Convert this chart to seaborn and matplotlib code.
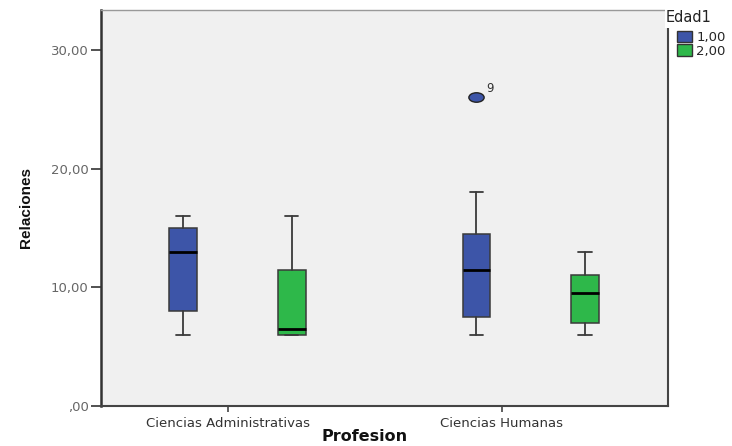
import matplotlib
matplotlib.use("Agg")
import matplotlib.pyplot as plt
from matplotlib.markers import MarkerStyle
from matplotlib.transforms import Affine2D
from matplotlib.patches import Patch, Rectangle
import seaborn as sns

# Categories
profesion = ["Ciencias Administrativas", "Ciencias Humanas"]
edad = ["1,00", "2,00"]

# Box summaries of Relaciones, indexed [profesion][edad]
whis_low = [[6, 6], [6, 6]]
q1 = [[8, 6], [7.5, 7]]
median = [[13, 6.5], [11.5, 9.5]]
q3 = [[15, 11.5], [14.5, 11]]
whis_high = [[16, 16], [18, 13]]
outliers = [[[], []], [[26], []]]
outlier_ids = [[[], []], [["9"], []]]

y_ticks = [0, 10, 20, 30]
y_tick_labels = [",00", "10,00", "20,00", "30,00"]

sns.set_style("ticks")
palette = ["#3d55a8", "#2eb84a"]
edge = "#3a3a3a"

fig = plt.figure(figsize=(7.32, 4.46), dpi=100)
W, H = 732, 446
ax = fig.add_axes([101 / W, 1 - 406 / H, 567 / W, 396 / H])
ax.set_facecolor("#f0f0f0")

group_centers = [0.034, 1.105]
hue_offsets = [-0.198, 0.198]
ellipse = MarkerStyle("o", transform=Affine2D().scale(1.0, 0.62))

for g in range(len(profesion)):
    for h in range(len(edad)):
        pos = group_centers[g] + hue_offsets[h]
        stats = [dict(med=median[g][h], q1=q1[g][h], q3=q3[g][h],
                      whislo=whis_low[g][h], whishi=whis_high[g][h],
                      fliers=outliers[g][h])]
        ax.bxp(stats, positions=[pos], widths=0.102, capwidths=0.048,
               patch_artist=True, manage_ticks=False,
               boxprops=dict(facecolor=palette[h], edgecolor=edge, linewidth=1.1),
               medianprops=dict(color="black", linewidth=2.0, solid_capstyle="butt"),
               whiskerprops=dict(color=edge, linewidth=1.3),
               capprops=dict(color=edge, linewidth=1.3),
               flierprops=dict(marker=ellipse, markersize=11,
                               markerfacecolor=palette[h],
                               markeredgecolor="#222222", markeredgewidth=1.0))
        for val, lab in zip(outliers[g][h], outlier_ids[g][h]):
            ax.annotate(lab, xy=(pos, val), xytext=(7, 2), textcoords="offset points",
                        fontsize=8.5, color="#333333", ha="left", va="bottom")

ax.set_xlim(-0.4635, 1.606)
ax.set_ylim(0, 33.37)
ax.set_xticks([0, 1])
ax.set_xticklabels(profesion, fontsize=9.5, color="#333333")
ax.set_yticks(y_ticks)
ax.set_yticklabels(y_tick_labels, fontsize=9.5, color="#666666")
ax.tick_params(axis="y", length=7, width=1.2, color="#333333", pad=2)
ax.tick_params(axis="x", length=4, width=1.2, color="#444444", pad=4)

for side, (lw, col) in {"left": (1.8, "#333333"), "bottom": (1.5, "#444444"),
                        "right": (1.5, "#444444"), "top": (1.0, "#999999")}.items():
    ax.spines[side].set_visible(True)
    ax.spines[side].set_linewidth(lw)
    ax.spines[side].set_color(col)

ax.set_xlabel("Profesion", fontsize=11.5, fontweight="bold", color="#111111")
ax.xaxis.set_label_coords((365 - 101) / 567, (406 - 429) / 396)
ax.set_ylabel("Relaciones", fontsize=11, fontweight="bold", color="#111111",
              fontfamily="Liberation Sans")
ax.yaxis.set_label_coords((33 - 101) / 567, 0.5)

# legend title panel sits over the top-right corner of the frame
fig.patches.append(Rectangle((665 / W, 1 - 28 / H), (W - 665) / W, 20 / H,
                             transform=fig.transFigure, facecolor="white",
                             edgecolor="none", zorder=5))
fig.text(666 / W, 1 - 18 / H, "Edad1", fontsize=10.5, color="#222222",
         ha="left", va="center", zorder=6)

handles = [Patch(facecolor=c, edgecolor="#333333", linewidth=1.0) for c in palette]
leg = fig.legend(handles, edad, loc="upper left",
                 bbox_to_anchor=(677 / W, 1 - 31 / H), frameon=False,
                 fontsize=9.5, handlelength=1.15, handleheight=0.95, handletextpad=0.3,
                 labelspacing=0.02, borderpad=0.0, borderaxespad=0.0)

fig.savefig("out.png", dpi=100, facecolor="white")
